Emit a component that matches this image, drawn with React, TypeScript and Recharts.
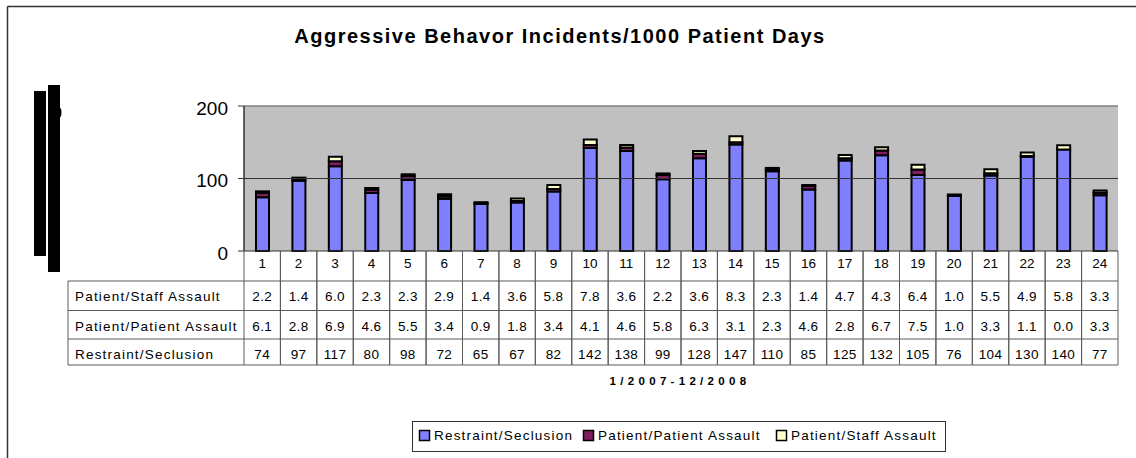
import React from 'react';
import { BarChart, Bar, XAxis, YAxis, CartesianGrid, ReferenceLine } from 'recharts';

const months = ['1','2','3','4','5','6','7','8','9','10','11','12','13','14','15','16','17','18','19','20','21','22','23','24'];
const restraint = [74,97,117,80,98,72,65,67,82,142,138,99,128,147,110,85,125,132,105,76,104,130,140,77];
const patientAssault = [6.1,2.8,6.9,4.6,5.5,3.4,0.9,1.8,3.4,4.1,4.6,5.8,6.3,3.1,2.3,4.6,2.8,6.7,7.5,1.0,3.3,1.1,0.0,3.3];
const staffAssault = [2.2,1.4,6.0,2.3,2.3,2.9,1.4,3.6,5.8,7.8,3.6,2.2,3.6,8.3,2.3,1.4,4.7,4.3,6.4,1.0,5.5,4.9,5.8,3.3];
const seriesKeys = ['restraint','patient','staff'];
const seriesNames = ['Restraint/Seclusion','Patient/Patient Assault','Patient/Staff Assault'];
const seriesColors = ['#8080FF','#7F1F5F','#FFFFCC'];
const yTicks = [0,100,200];
const title = 'Aggressive Behavor Incidents/1000 Patient Days';
const xLabel = '1/2007-12/2008';

const data = months.map((m, i) => ({ month: m, restraint: restraint[i], patient: patientAssault[i], staff: staffAssault[i] }));

// table rows, top to bottom
const tableRows = [
  { label: seriesNames[2], values: staffAssault.map(v => v.toFixed(1)) },
  { label: seriesNames[1], values: patientAssault.map(v => v.toFixed(1)) },
  { label: seriesNames[0], values: restraint.map(v => String(v)) },
];

const COL_W = (1118 - 244) / 24;
const ROW_EDGES = [30, 59.5, 88, 114]; // offsets from axis for row boundaries
const LABEL_LEFT = 68;
const LINE = '#5a5a5a';
const FONT = 'Arial, "Liberation Sans", sans-serif';

const TableTick = (props: any) => {
  const { x, y, payload } = props;
  const idx = payload.index;
  const left = x - COL_W / 2;
  const right = x + COL_W / 2;
  const bottom = y + ROW_EDGES[3];
  return (
    <g>
      <line x1={left} x2={left} y1={y} y2={bottom} stroke={LINE} strokeWidth={1} />
      <line x1={right} x2={right} y1={y} y2={bottom} stroke={LINE} strokeWidth={1} />
      <text x={x} y={y + 17} textAnchor="middle" fontFamily={FONT} fontSize={13.5} fill="#000">{payload.value}</text>
      {ROW_EDGES.map((e, k) => (
        <line key={k} x1={left} x2={right} y1={y + e} y2={y + e} stroke={LINE} strokeWidth={1} />
      ))}
      {tableRows.map((r, k) => (
        <text key={k} x={x} y={y + ROW_EDGES[k] + 20} textAnchor="middle" fontFamily={FONT} fontSize={13.5} letterSpacing={0.4} fill="#000">{r.values[idx]}</text>
      ))}
      {idx === 0 && (
        <g>
          {ROW_EDGES.map((e, k) => (
            <line key={k} x1={LABEL_LEFT} x2={left} y1={y + e} y2={y + e} stroke={LINE} strokeWidth={1} />
          ))}
          <line x1={LABEL_LEFT} x2={LABEL_LEFT} y1={y + ROW_EDGES[0]} y2={bottom} stroke={LINE} strokeWidth={1} />
          {tableRows.map((r, k) => (
            <text key={k} x={LABEL_LEFT + 7} y={y + ROW_EDGES[k] + 20} fontFamily={FONT} fontSize={13.5} letterSpacing={1.2} fill="#000">{r.label}</text>
          ))}
        </g>
      )}
    </g>
  );
};

const legendX = [419, 583, 776];

export default function App() {
  return (
    <div style={{ position: 'absolute', left: 0, top: 0, width: 1136, height: 458, overflow: 'hidden', background: '#fff' }}>
      <BarChart width={1136} height={458} data={data} margin={{ top: 106, right: 18, left: 184, bottom: 93 }}>
        <CartesianGrid fill="#C0C0C0" horizontal={false} vertical={false} />
        <XAxis
          dataKey="month"
          interval={0}
          height={114}
          tickSize={0}
          tickMargin={0}
          tickLine={false}
          axisLine={{ stroke: '#333', strokeWidth: 1 }}
          tick={<TableTick />}
        />
        <YAxis
          domain={[0, 200]}
          ticks={yTicks}
          width={60}
          tickSize={6}
          tickMargin={10}
          axisLine={{ stroke: '#333', strokeWidth: 1.5 }}
          tickLine={{ stroke: '#333' }}
          tick={{ fontFamily: FONT, fontSize: 19, fill: '#000', dy: 2 }}
        />
        <YAxis yAxisId="r" orientation="right" width={0} domain={[0, 200]} tick={false} tickLine={false} axisLine={{ stroke: '#808080', strokeWidth: 1.5 }} />
        <ReferenceLine y={100} stroke="#333" strokeWidth={1} />
        <ReferenceLine y={200} stroke="#808080" strokeWidth={1.5} />
        {seriesKeys.map((k, i) => (
          <Bar key={k} dataKey={k} name={seriesNames[i]} stackId="a" fill={seriesColors[i]} stroke="#000" strokeWidth={2} barSize={13} isAnimationActive={false} />
        ))}
      </BarChart>
      <svg width={1136} height={458} style={{ position: 'absolute', left: 0, top: 0, pointerEvents: 'none' }}>
        <line x1={7.5} x2={7.5} y1={6.5} y2={458} stroke="#333" strokeWidth={1.5} />
        <line x1={7.5} x2={1136} y1={6.5} y2={6.5} stroke="#333" strokeWidth={1.5} />
        <rect x={34} y={91} width={12} height={165} fill="#000" />
        <rect x={48} y={85} width={12} height={187} fill="#000" />
        <ellipse cx={59} cy={112.5} rx={2.5} ry={5} fill="#000" />
        <text x={560} y={43} textAnchor="middle" fontFamily={FONT} fontWeight="bold" fontSize={20} letterSpacing={1.5} fill="#000">{title}</text>
        <text x={680} y={385} textAnchor="middle" fontFamily={FONT} fontWeight="bold" fontSize={11.5} letterSpacing={4.3} fill="#000">{xLabel}</text>
        <rect x={412.5} y={421.5} width={533} height={30} fill="#fff" stroke="#333" strokeWidth={1} />
        {seriesNames.map((n, i) => (
          <g key={n}>
            <rect x={legendX[i] + 0.5} y={430.5} width={10} height={10} fill={seriesColors[i]} stroke="#000" strokeWidth={1.5} />
            <text x={legendX[i] + 15} y={440} fontFamily={FONT} fontSize={13.5} letterSpacing={1.2} fill="#000">{n}</text>
          </g>
        ))}
      </svg>
    </div>
  );
}
